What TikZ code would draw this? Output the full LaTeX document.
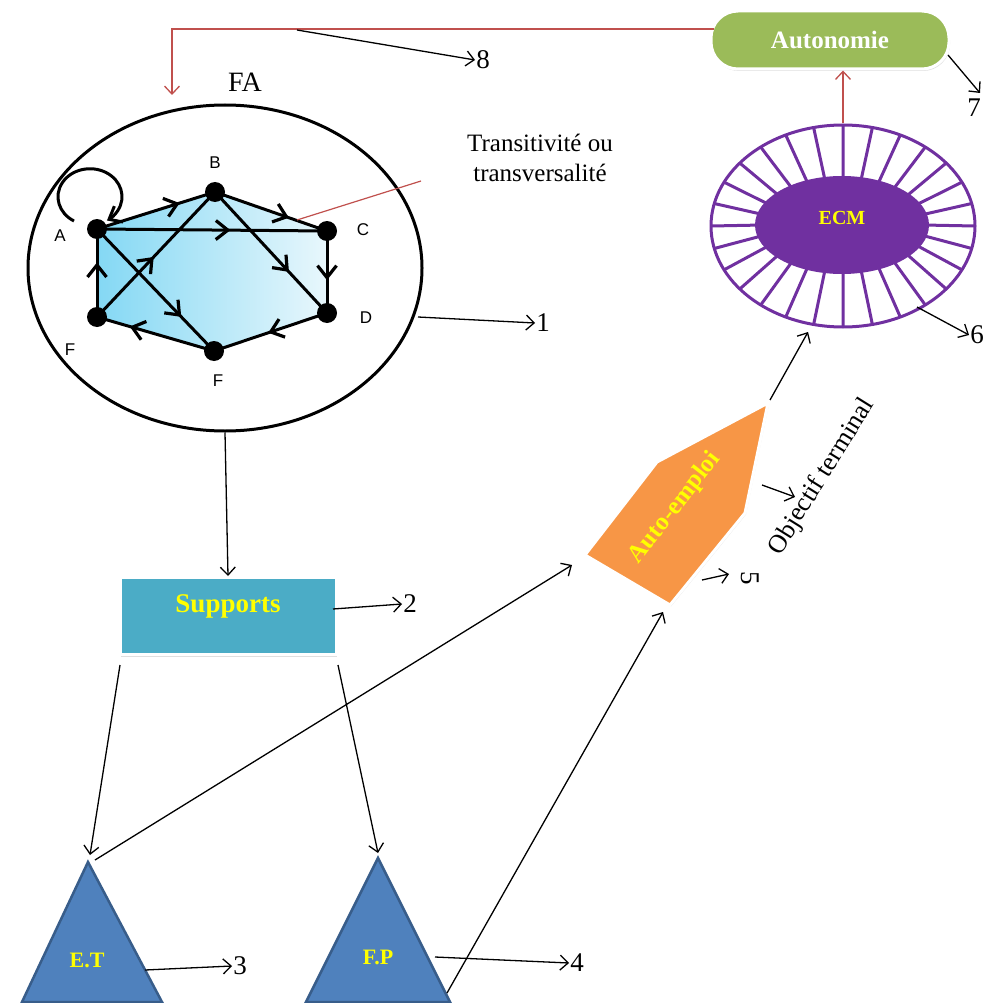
\documentclass[tikz,border=0pt]{standalone}
\usepackage{fontspec}
\setmainfont{Liberation Serif}
\newfontfamily\lbsans{Liberation Sans}
\usetikzlibrary{arrows.meta,decorations.markings,shadows,shapes.geometric}
\definecolor{hexL}{HTML}{84D8F4}
\definecolor{hexR}{HTML}{E8F7FC}
\definecolor{hexE}{HTML}{4BACC6}
\definecolor{supc}{HTML}{4BACC6}
\definecolor{tric}{HTML}{4F81BD}
\definecolor{trib}{HTML}{385D8A}
\definecolor{autoc}{HTML}{F79646}
\definecolor{autonc}{HTML}{9BBB59}
\definecolor{ecmc}{HTML}{7030A0}
\definecolor{redl}{HTML}{C0504D}
\definecolor{yel}{HTML}{FFFF00}
\begin{document}
\begin{tikzpicture}[x=1pt,y=-1pt,
  conn/.style={draw=black, line width=1.3pt, -{Straight Barb[length=8pt,width=15pt]}},
  redconn/.style={draw=redl, line width=1.3pt, -{Straight Barb[length=8pt,width=15pt]}},
  gedge/.style={line width=3pt, postaction={decorate},
    decoration={markings, mark=at position #1 with {\arrow{Straight Barb[length=12pt,width=19pt,line width=3.2pt]}}}},
  gedge/.default=0.55,
  dot/.style={circle, fill=black, inner sep=0pt, minimum size=20pt},
  vlab/.style={font=\lbsans\fontsize{17}{20}\selectfont},
  num/.style={font=\fontsize{27}{30}\selectfont, inner sep=1pt},
  ytext/.style={text=yel, font=\bfseries\fontsize{#1}{#1}\selectfont},
  ecmline/.style={draw=ecmc, line width=3pt},
]
\useasboundingbox (0,0) rectangle (984,1003);

% ---------- FA graph ----------
\node (fa) [draw, ellipse, line width=3pt, minimum width=394pt, minimum height=326pt, inner sep=0pt] at (225,268) {};
\node (falab) [font=\fontsize{28}{30}\selectfont] at (245,82) {FA};

\coordinate (A) at (97,229);
\coordinate (B) at (215,192);
\coordinate (C) at (327,231);
\coordinate (D) at (327,313);
\coordinate (E) at (214,351);
\coordinate (F) at (97,317);

\shadedraw[left color=hexL, right color=hexR, draw=hexE, line width=1pt]
  (A) -- (B) -- (C) -- (D) -- (E) -- (F) -- cycle;

\draw[gedge=0.7] (A) -- (B);
\draw[gedge=0.66] (B) -- (C);
\draw[gedge=0.58] (A) -- (C);
\draw[gedge=0.6] (C) -- (D);
\draw[gedge=0.52] (D) -- (E);
\draw[gedge=0.72] (E) -- (F);
\draw[gedge=0.62] (F) -- (A);
\draw[gedge=0.48] (F) -- (B);
\draw[gedge=0.72] (A) -- (E);
\draw[gedge=0.66] (B) -- (D);
\coordinate (loopst) at (74,221);
\draw[line width=3pt, -{Straight Barb[length=11pt,width=18pt]}] (loopst) arc[start angle=120, end angle=418, x radius=32, y radius=28];

\foreach \v in {A,B,C,D,E,F} \node[dot] (d\v) at (\v) {};

\node[vlab] (lA) at (60,236) {A};
\node[vlab] (lB) at (215,163) {B};
\node[vlab] (lC) at (363,230) {C};
\node[vlab] (lD) at (366,318) {D};
\node[vlab] (lF) at (70,350) {F};
\node[vlab] (lE) at (218,381) {F};

\node (trans) [align=center, font=\fontsize{25}{30}\selectfont] at (540,158) {Transitivité ou\\transversalité};
\coordinate (transpt) at (421,181);
\coordinate (bcpt) at (297,220);
\draw[draw=redl, line width=1.2pt] (transpt) -- (bcpt);

\node[num] (n1) at (543,323) {1};
\coordinate (fa1) at (418,317);
\draw[conn] (fa1) -- (n1.west);

% ---------- Supports ----------
\node (sup) [rectangle, fill=supc, draw=white, line width=3pt, minimum width=216pt, minimum height=77pt, drop shadow={opacity=0.25, shadow xshift=1pt, shadow yshift=-2pt}] at (228,616) {};
\node (suptxt) [ytext=27] at (228,606) {Supports};
\draw[conn] (fa.south) -- (sup.north);
\coordinate (s2) at (333,609);
\node[num] (n2) at (410,604) {2};
\draw[conn] (s2) -- (n2.west);

% ---------- Triangles ----------
\coordinate (etA) at (88,862);
\coordinate (etL) at (22,1002);
\coordinate (etR) at (162,1002);
\filldraw[fill=tric, draw=trib, line width=2.5pt] (etA) -- (etR) -- (etL) -- cycle;
\node (et) [ytext=22] at (87,960) {E.T};

\coordinate (fpA) at (378,858);
\coordinate (fpL) at (306,1002);
\coordinate (fpR) at (450,1002);
\filldraw[fill=tric, draw=trib, line width=2.5pt] (fpA) -- (fpR) -- (fpL) -- cycle;
\node (fp) [ytext=22] at (378,957) {F.P};

\coordinate (s3a) at (120,665);
\coordinate (s3b) at (90,855);
\draw[conn] (s3a) -- (s3b);
\coordinate (s4a) at (338,665);
\coordinate (s4b) at (378,853);
\draw[conn] (s4a) -- (s4b);

\coordinate (et3) at (145,970);
\node[num] (n3) at (240,966) {3};
\draw[conn] (et3) -- (n3.west);
\coordinate (fp4) at (435,957);
\node[num] (n4) at (577,963) {4};
\draw[conn] (fp4) -- (n4.west);

% ---------- Auto-emploi ----------
\coordinate (au1) at (768,403);
\coordinate (au2) at (657,462);
\coordinate (au3) at (585,555);
\coordinate (au4) at (670,605);
\coordinate (au5) at (745,513);
\filldraw[fill=autoc, draw=white, line width=3pt, drop shadow={opacity=0.2, shadow xshift=1pt, shadow yshift=-1.5pt}]
  (au1) -- (au2) -- (au3) -- (au4) -- (au5) -- cycle;
\node (autotxt) [ytext=25, rotate=52] at (675,508) {Auto-emploi};

\coordinate (etapex) at (95,860);
\coordinate (aul) at (572,565);
\draw[conn] (etapex) -- (aul);
\coordinate (fpbr) at (447,993);
\coordinate (aub) at (663,612);
\draw[conn] (fpbr) -- (aub);

\node (obj) [font=\fontsize{26}{28}\selectfont, rotate=58] at (822,477) {Objectif terminal};
\coordinate (oa) at (762,485);
\coordinate (ob) at (795,497);
\draw[conn] (oa) -- (ob);
\node (n5) [num, rotate=-90] at (750,578) {5};
\coordinate (a5) at (702,580);
\coordinate (b5) at (729,574);
\draw[conn] (a5) -- (b5);

% ---------- ECM ----------
\foreach \t in {0,12.857,...,359}
  \draw[ecmline] ({843+80*cos(\t)},{225+45*sin(\t)}) -- ({843+132*cos(\t)},{226+101*sin(\t)});
\node (ecmout) [draw=ecmc, ellipse, line width=3pt, minimum width=264pt, minimum height=202pt, inner sep=0pt] at (843,226) {};
\node (ecm) [fill=ecmc, ellipse, minimum width=174pt, minimum height=98pt, inner sep=0pt] at (842,225) {};
\node (ecmtxt) [ytext=20] at (842,218) {ECM};

\coordinate (autip) at (770,400);
\coordinate (ecmb) at (808,332);
\draw[conn] (autip) -- (ecmb);
\coordinate (e6) at (917,307);
\node[num] (n6) at (977,335) {6};
\draw[conn] (e6) -- (n6.west);

% ---------- Autonomie ----------
\node (auton) [rectangle, rounded corners=27pt, fill=autonc, draw=white, line width=3pt, minimum width=238pt, minimum height=58pt, drop shadow={opacity=0.25, shadow xshift=1pt, shadow yshift=-2pt}] at (830,40) {};
\node (autontxt) [text=white, font=\bfseries\fontsize{25}{27}\selectfont] at (830,40) {Autonomie};
\draw[redconn] (ecmout.north) -- (ecmout.north |- auton.south);

\coordinate (r1) at (714,29);
\coordinate (r2) at (172,29);
\coordinate (r3) at (172,95);
\draw[redconn] (r1) -- (r2) -- (r3);

\coordinate (r8) at (297,30);
\node[num] (n8) at (483,60) {8};
\draw[conn] (r8) -- (n8.west);

\coordinate (a7) at (948,55);
\coordinate (b7) at (980,93);
\draw[conn] (a7) -- (b7);
\node[num] (n7) at (974,108) {7};
\end{tikzpicture}
\end{document}
